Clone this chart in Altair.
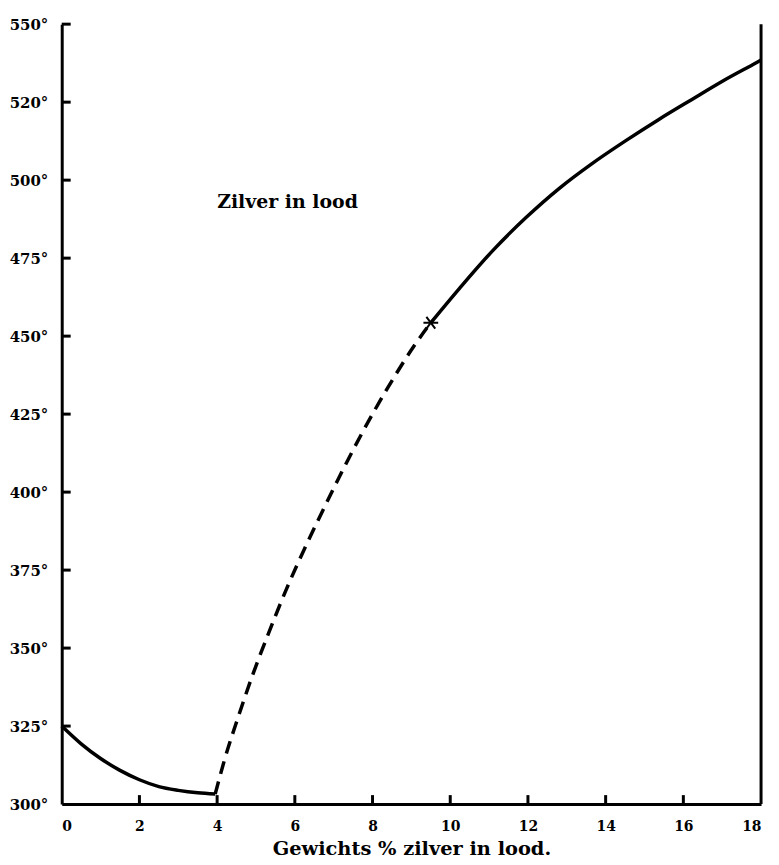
import altair as alt
import pandas as pd

# --- data ---
left_x = [0, 0.5, 1, 1.5, 2, 2.5, 3, 3.5, 3.95]
left_y = [325, 319.3, 314.6, 310.8, 307.8, 305.6, 304.4, 303.6, 303.2]

dash_x = [3.95, 4.2, 4.54, 4.92, 5.31, 5.77, 6.07, 6.58, 7.09, 7.69, 8.37, 9.05, 9.5]
dash_y = [303.2, 314.6, 327.8, 341.6, 354.3, 368.5, 377.0, 390.5, 403.5, 418.0, 433.0, 446.5, 454.3]

up_x = [9.5, 10.25, 11.1, 11.95, 12.8, 13.65, 14.5, 15.35, 16.2, 17.05, 17.9, 18.0]
up_y = [454.3, 465.5, 477.5, 488.0, 497.3, 505.3, 512.5, 519.3, 525.7, 532.0, 537.8, 538.5]

star_x = [9.5]
star_y = [454.3]

x_ticks = [0, 2, 4, 6, 8, 10, 12, 14, 16, 18]
y_ticks = [300, 325, 350, 375, 400, 425, 450, 475, 500, 525, 550]
y_labels = ["300°", "325°", "350°", "375°", "400°", "425°", "450°", "475°", "500°", "520°", "550°"]

label_text = ["Zilver in lood"]
label_x = [4.0]
label_y = [493]

x_title = "Gewichts % zilver in lood."

# --- chart ---
FONT = "DejaVu Serif"
W, H = 703, 784

label_expr = ""
for v, l in zip(y_ticks, y_labels):
    label_expr += f"datum.value == {v} ? '{l}' : "
label_expr += "''"

xs = alt.Scale(domain=[0, 18], nice=False, zero=False)
ys = alt.Scale(domain=[300, 550], nice=False, zero=False)

x_axis = alt.Axis(values=x_ticks, ticks=False, grid=False, domainColor="black",
                  domainWidth=3, labelFont=FONT, labelFontWeight="bold",
                  labelFontSize=14, labelColor="black", labelPadding=16,
                  title=x_title, titleFont=FONT, titleFontSize=19.5,
                  titleFontWeight="bold", titleColor="black", titlePadding=6,
                  format="d")
y_axis = alt.Axis(values=y_ticks, ticks=False, grid=False, domainColor="black",
                  domainWidth=3, labelFont=FONT, labelFontWeight="bold",
                  labelFontSize=15, labelColor="black", labelPadding=14,
                  labelExpr=label_expr, title=None)

df_left = pd.DataFrame({"x": left_x, "y": left_y})
df_dash = pd.DataFrame({"x": dash_x, "y": dash_y})
df_up = pd.DataFrame({"x": up_x, "y": up_y})
df_star = pd.DataFrame({"x": star_x, "y": star_y})
df_lab = pd.DataFrame({"x": label_x, "y": label_y, "t": label_text})
df_xt = pd.DataFrame({"x": x_ticks[1:-1]})
df_yt = pd.DataFrame({"y": y_ticks[1:]})
df_right = pd.DataFrame({"x": [18], "y": [300], "y2": [550]})

base_x = alt.X("x:Q", scale=xs, axis=x_axis)
base_y = alt.Y("y:Q", scale=ys, axis=y_axis)
px = alt.X("x:Q", scale=xs)
py = alt.Y("y:Q", scale=ys)

left = alt.Chart(df_left).mark_line(color="black", strokeWidth=3.5,
                                    interpolate="monotone").encode(x=base_x, y=base_y)
dash = alt.Chart(df_dash).mark_line(color="black", strokeWidth=3.5, strokeDash=[13, 8],
                                    interpolate="monotone").encode(x=px, y=py)
up = alt.Chart(df_up).mark_line(color="black", strokeWidth=3.5,
                                interpolate="monotone").encode(x=px, y=py)
star = alt.Chart(df_star).mark_point(
    shape="M-1,0L1,0M-0.6,-0.8L0.6,0.8M-0.6,0.8L0.6,-0.8",
    filled=False, stroke="black", strokeWidth=2, size=220, opacity=1).encode(x=px, y=py)
lab = alt.Chart(df_lab).mark_text(font=FONT, fontSize=19, fontWeight="bold",
                                  align="left", baseline="middle", color="black").encode(
    x=px, y=py, text="t:N")
xt = alt.Chart(df_xt).mark_rule(color="black", strokeWidth=3).encode(
    x=px, y=alt.value(H), y2=alt.value(H - 9))
yt = alt.Chart(df_yt).mark_rule(color="black", strokeWidth=3).encode(
    y=py, x=alt.value(0), x2=alt.value(9))
right = alt.Chart(df_right).mark_rule(color="black", strokeWidth=3).encode(
    x=px, y=py, y2="y2:Q")

chart = alt.layer(left, dash, up, star, lab, xt, yt, right).properties(
    width=W, height=H,
    background="white",
    autosize=alt.AutoSizeParams(type="none"),
    padding={"left": 54, "top": 14, "right": 10, "bottom": 58},
).configure_view(strokeWidth=0, stroke="transparent").configure_axis(grid=False)

chart.save("out.html", embed_options={"renderer": "svg", "actions": False})
